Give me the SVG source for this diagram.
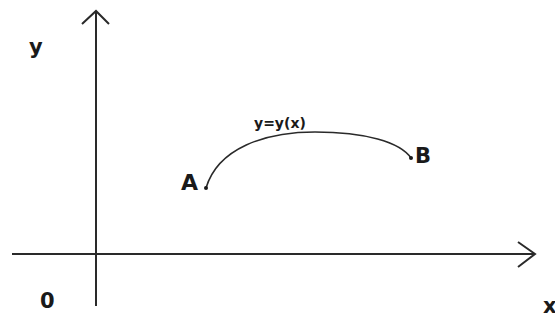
<svg xmlns="http://www.w3.org/2000/svg" width="555" height="322" viewBox="0 0 555 322">
<style>
.ax{stroke:#2a2a2a;stroke-width:2;fill:none}
.cv{stroke:#2a2a2a;stroke-width:1.6;fill:none}
.lb{font-family:"DejaVu Sans",sans-serif;font-weight:bold;fill:#1a1a1a}
</style>
<rect width="555" height="322" fill="#fff"/>
<g id="connectors">
<path class="ax" d="M96,12 V306"/>
<path class="ax" d="M82,24 L96,11 L109,24"/>
<path class="ax" d="M12,254 H535"/>
<path class="ax" d="M518,242 L535,254 L518,267"/>
<path id="curve" class="cv" d="M206,188 C218,148 265,132 315,132 C365,132 400,142 411,158"/>
</g>
<g id="axis-y-label"><text class="lb" x="29" y="54" font-size="21">y</text></g>
<g id="origin"><text class="lb" x="40" y="308" font-size="21">0</text></g>
<g id="axis-x-label"><text class="lb" x="543" y="313" font-size="21">x</text></g>
<g id="A"><circle cx="206" cy="188" r="2" fill="#1a1a1a"/><text class="lb" x="181" y="190" font-size="22">A</text></g>
<g id="B"><circle cx="411" cy="158" r="2" fill="#1a1a1a"/><text class="lb" x="415" y="163" font-size="21">B</text></g>
<g id="curve-label"><text class="lb" x="254" y="128" font-size="14">y=y(x)</text></g>
</svg>
